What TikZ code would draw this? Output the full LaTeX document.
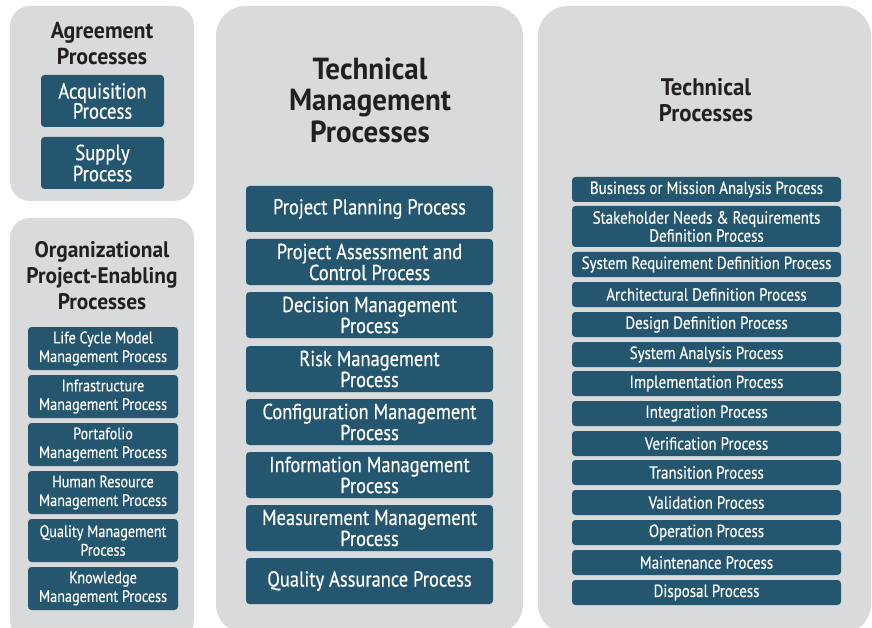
\documentclass[tikz,border=0pt]{standalone}
\usepackage{fontspec}
\setmainfont{PT Sans}[FakeStretch=0.85]
\newfontfamily\boxfont{PT Sans}[FakeStretch=0.85,BoldFont={PT Sans},BoldFeatures={FakeBold=0.5}]
\newfontfamily\titlefont{PT Sans}[FakeStretch=0.95]
\definecolor{panelc}{HTML}{D9DADB}
\definecolor{boxc}{HTML}{25566F}
\definecolor{titlec}{HTML}{231F20}
\newcommand{\fs}[2]{\fontsize{#1}{#2}\selectfont}
\begin{document}
\begin{tikzpicture}[x=1pt,y=-1pt,
  panel/.style={fill=panelc,rounded corners=#1},
  ptitle/.style={text=titlec,align=center,inner sep=0pt},
  pbox/.style={fill=boxc,text=white,rounded corners=3.5pt,align=center,inner sep=0pt},
  abox/.style={pbox,minimum width=123pt,minimum height=52pt,font=\boxfont\bfseries\fs{22}{20}},
  obox/.style={pbox,minimum width=150pt,minimum height=43pt,font=\boxfont\bfseries\fs{16.7}{18.7}},
  mbox/.style={pbox,minimum width=247pt,minimum height=46pt,font=\boxfont\bfseries\fs{21.7}{21}},
  tbox/.style={pbox,minimum width=269pt,minimum height=25pt,font=\boxfont\bfseries\fs{17.6}{18}}]
\useasboundingbox (0,0) rectangle (872,628);
\clip (0,0) rectangle (872,628);
% panels
\fill[panel=20pt] (10,6) rectangle (194,201);
\fill[panel=20pt] (10,218) rectangle (194,640);
\fill[panel=30pt] (216,6) rectangle (523,634);
\fill[panel=30pt] (538,6) rectangle (871,634);
% titles
\node[ptitle,font=\titlefont\bfseries\fs{23}{26}] (tag) at (102,44) {Agreement\\Processes};
\node[ptitle,font=\titlefont\bfseries\fs{22.5}{26}] (tor) at (102,276) {Organizational\\Project-Enabling\\Processes};
\node[ptitle,font=\titlefont\bfseries\fs{30.5}{31.5}] (ttm) at (370,100) {Technical\\Management\\Processes};
\node[ptitle,font=\titlefont\bfseries\fs{24}{25.5}] (ttp) at (706,100) {Technical\\Processes};
% agreement
\node[abox] (a1) at (102.5,101) {Acquisition\\Process};
\node[abox] (a2) at (102.5,163) {Supply\\Process};
% organizational
\node[obox] (o1) at (103,348.5) {Life Cycle Model\\Management Process};
\node[obox] (o2) at (103,396.5) {Infrastructure\\Management Process};
\node[obox] (o3) at (103,444.5) {Portafolio\\Management Process};
\node[obox] (o4) at (103,492.5) {Human Resource\\Management Process};
\node[obox] (o5) at (103,540.5) {Quality Management\\Process};
\node[obox] (o6) at (103,588.5) {Knowledge\\Management Process};
% technical management
\node[mbox] (m1) at (369.5,209) {Project Planning Process};
\node[mbox] (m2) at (369.5,262) {Project Assessment and\\Control Process};
\node[mbox] (m3) at (369.5,315) {Decision Management\\Process};
\node[mbox] (m4) at (369.5,369) {Risk Management\\Process};
\node[mbox] (m5) at (369.5,422) {Configuration Management\\Process};
\node[mbox] (m6) at (369.5,475) {Information Management\\Process};
\node[mbox] (m7) at (369.5,528) {Measurement Management\\Process};
\node[mbox] (m8) at (369.5,581) {Quality Assurance Process};
% technical
\node[tbox] (t1) at (706.5,189.5) {Business or Mission Analysis Process};
\node[tbox,minimum height=41pt] (t2) at (706.5,226.5) {Stakeholder Needs \& Requirements\\Definition Process};
\node[tbox] (t3) at (706.5,264.5) {System Requirement Definition Process};
\node[tbox] (t4) at (706.5,294.5) {Architectural Definition Process};
\node[tbox] (t5) at (706.5,324.5) {Design Definition Process};
\node[tbox] (t6) at (706.5,354.5) {System Analysis Process};
\node[tbox] (t7) at (706.5,383.5) {Implementation Process};
\node[tbox] (t8) at (706.5,413.5) {Integration Process};
\node[tbox] (t9) at (706.5,443.5) {Verification Process};
\node[tbox] (t10) at (706.5,472.5) {Transition Process};
\node[tbox] (t11) at (706.5,502.5) {Validation Process};
\node[tbox] (t12) at (706.5,532.5) {Operation Process};
\node[tbox] (t13) at (706.5,562.5) {Maintenance Process};
\node[tbox] (t14) at (706.5,592.5) {Disposal Process};
\end{tikzpicture}
\end{document}
